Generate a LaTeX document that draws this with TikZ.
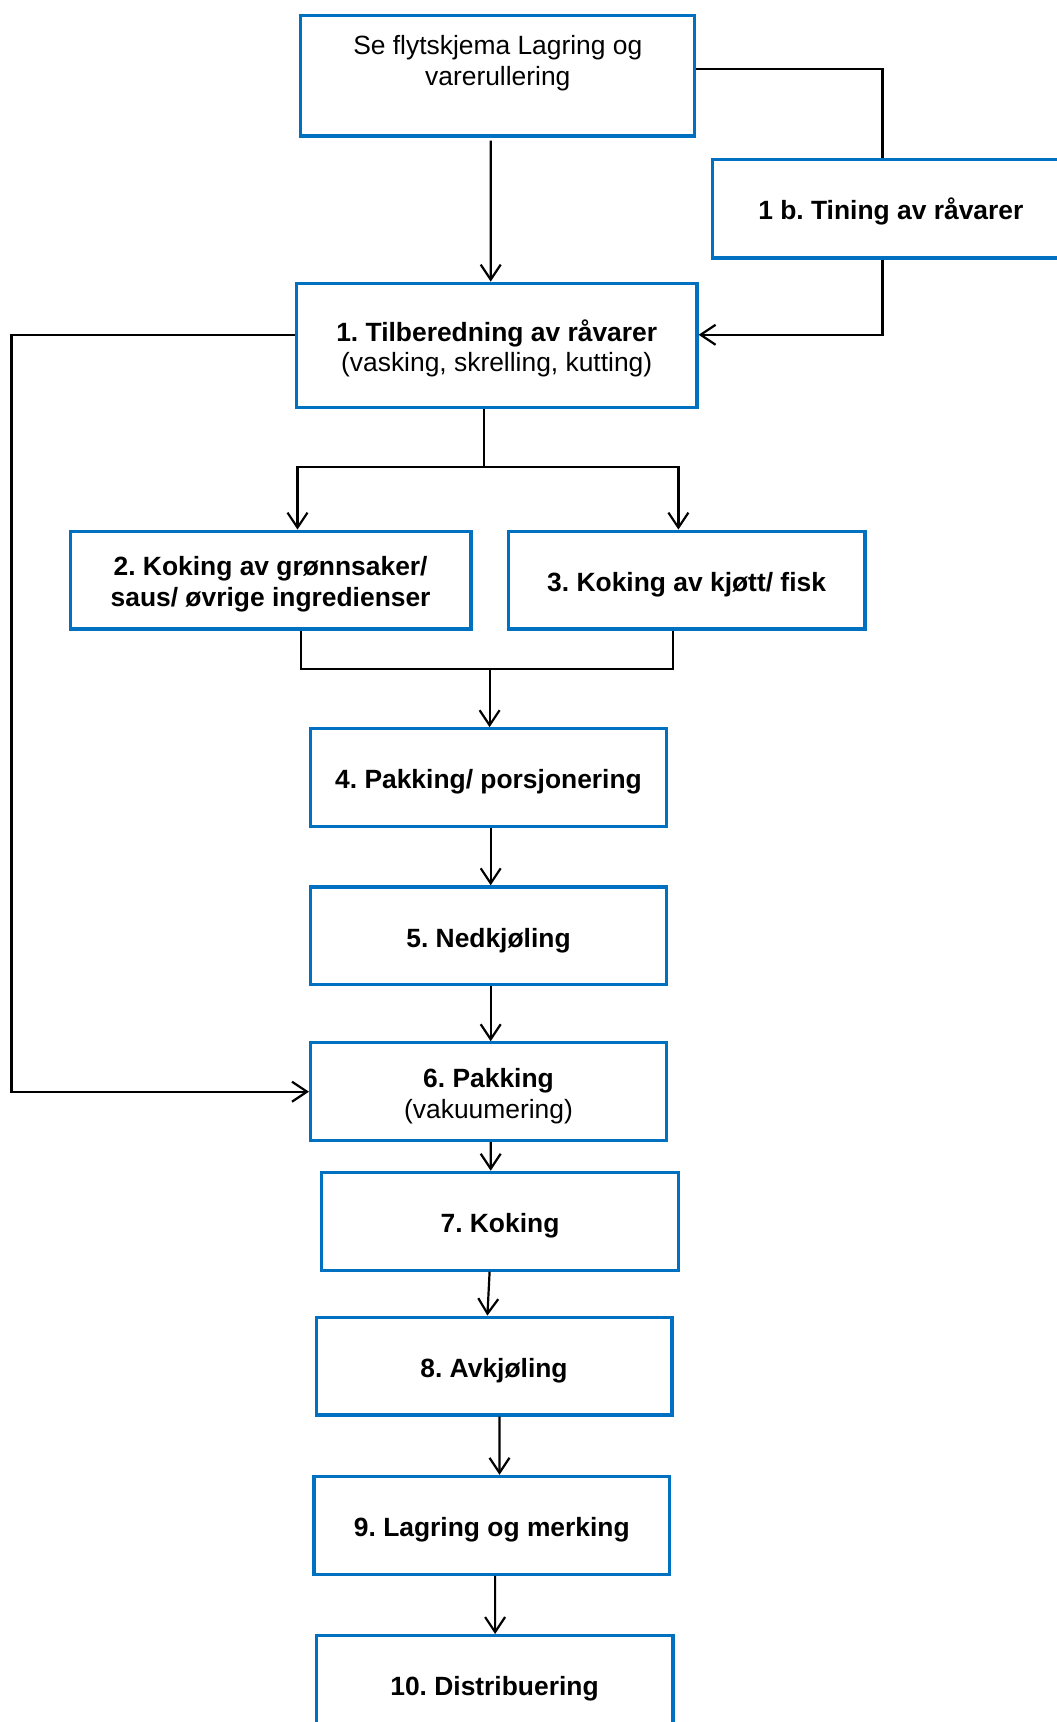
\documentclass[tikz,border=0pt]{standalone}
\usepackage{fontspec}
\setmainfont{Liberation Sans}
\usetikzlibrary{calc,arrows.meta}
\definecolor{boxblue}{HTML}{0070C0}
\newcommand{\sr}{\rule{0pt}{14pt}}
\frenchspacing
\begin{document}
\begin{tikzpicture}[x=0.5pt,y=-0.5pt,
  box/.style={draw=boxblue, line width=1.6pt, fill=white, align=center, inner sep=0pt,
    minimum width=178.4pt, minimum height=48.9pt,
    font=\fontsize{13.2}{15.35}\selectfont\bfseries},
  conn/.style={line width=1.1pt, black},
  arr/.style={conn, -{Straight Barb[length=7.5pt,width=10pt]}}]
\useasboundingbox (0,0) rectangle (1056,1722);
\fill[white] (0,0) rectangle (1056,1722);

\node[box, font=\fontsize{13.2}{15.35}\selectfont, minimum width=197pt, minimum height=60.35pt] (top) at (497.8,75.7) {\sr Se flytskjema Lagring og\\varerullering\\\strut};
\node[box, minimum height=49.4pt] (t1b) at (890.8,208.6) {\sr 1 b. Tining av råvarer};
\node[box, minimum width=200.3pt, minimum height=62pt] (b1) at (496.7,345.2) {\sr 1. Tilberedning av råvarer\\{\mdseries (vasking, skrelling, kutting)}};
\node[box, minimum width=200.3pt] (b2) at (270.6,580.1) {\sr 2. Koking av grønnsaker/\\saus/ øvrige ingredienser};
\node[box] (b3) at (686.6,580.1) {\sr 3. Koking av kjøtt/ fisk};
\node[box, minimum width=177.9pt] (b4) at (488.5,777.7) {\sr 4. Pakking/ porsjonering};
\node[box, minimum width=177.9pt] (b5) at (488.5,935.8) {\sr 5. Nedkjøling};
\node[box, minimum width=177.9pt] (b6) at (488.5,1091.7) {\sr 6. Pakking\\{\mdseries (vakuumering)}};
\node[box] (b7) at (500,1221.2) {\sr 7. Koking};
\node[box, minimum width=177.9pt] (b8) at (494,1366.1) {\sr 8. Avkjøling};
\node[box, minimum width=177.9pt] (b9) at (491.8,1525.3) {\sr 9. Lagring og merking};
\node[box] (b10) at (494.5,1684.5) {\sr 10. Distribuering};

% top -> 1
\draw[arr] ($(top.south)+(-7,3)$) -- ($(b1.north)+(-6,0)$);
% top -> 1b
\draw[conn] ($(top.east)+(0,-6.5)$) -| ($(t1b.north)+(-8.3,0)$);
% 1b -> 1
\draw[arr] ($(t1b.south)+(-8.3,0)$) |- ($(b1.east)+(0,-10.4)$);
% 1 -> 6 (bypass)
\draw[arr] ($(b1.west)+(0,-10.4)$) -- ++(-283.4,0) |- (b6.west);
% 1 -> 2, 3
\coordinate (split) at ($(b1.south)+(-12.6,58.2)$);
\draw[conn] ($(b1.south)+(-12.6,0)$) -- (split);
\draw[arr] (split) -| ($(b2.north)+(26.9,0)$);
\draw[arr] (split) -| ($(b3.north)+(-8.2,0)$);
% 2, 3 -> 4
\coordinate (join) at ($(b4.north)+(1.1,-58.2)$);
\draw[conn] ($(b2.south)+(30.2,0)$) |- (join);
\draw[conn] ($(b3.south)+(-13.7,0)$) |- (join);
\draw[arr] (join) -- ($(b4.north)+(1.1,0)$);
% chain
\draw[arr] ($(b4.south)+(2.2,0)$) -- ($(b5.north)+(2.2,0)$);
\draw[arr] ($(b5.south)+(2.2,0)$) -- ($(b6.north)+(2.2,0)$);
\draw[arr] ($(b6.south)+(2.2,0)$) -- ($(b7.north)+(-9.3,0)$);
\draw[arr] ($(b7.south)+(-10.4,0)$) -- ($(b8.north)+(-6.6,0)$);
\draw[arr] ($(b8.south)+(5.5,0)$) -- ($(b9.north)+(7.7,0)$);
\draw[arr] ($(b9.south)+(3.3,0)$) -- ($(b10.north)+(0.6,0)$);
\end{tikzpicture}
\end{document}
